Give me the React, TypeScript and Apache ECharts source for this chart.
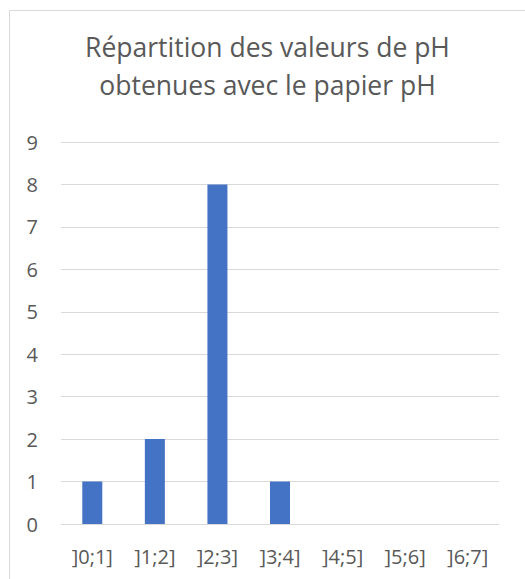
import React, { useEffect, useRef } from "react";
import * as echarts from "echarts";

const titleLines = ["Répartition des valeurs de pH", "obtenues avec le papier pH"];
const categories = ["]0;1]", "]1;2]", "]2;3]", "]3;4]", "]4;5]", "]5;6]", "]6;7]"];
const counts = [1, 2, 8, 1, 0, 0, 0];
const yMin = 0;
const yMax = 9;
const yInterval = 1;

export default function App() {
  const ref = useRef<HTMLDivElement>(null);
  useEffect(() => {
    if (!ref.current) return;
    const chart = echarts.init(ref.current, undefined, { renderer: "svg" });
    const font = "Open Sans";
    chart.setOption({
      animation: false,
      backgroundColor: "#ffffff",
      graphic: [
        { type: "line", shape: { x1: 9.5, y1: 10.5, x2: 9.5, y2: 579 }, style: { stroke: "#D9D9D9", lineWidth: 1 } },
        { type: "line", shape: { x1: 9.5, y1: 10.5, x2: 525, y2: 10.5 }, style: { stroke: "#D9D9D9", lineWidth: 1 } },
        {
          type: "text",
          x: 267.5,
          y: 28,
          style: {
            text: titleLines.join("\n"),
            align: "center",
            verticalAlign: "top",
            fontFamily: font,
            fontSize: 26.5,
            lineHeight: 38,
            fill: "#595959",
          },
        },
      ],
      grid: { left: 61, right: 26, top: 142, bottom: 55, containLabel: false },
      xAxis: {
        type: "category",
        data: categories,
        axisLine: { show: false },
        axisTick: { show: false },
        axisLabel: { color: "#595959", fontFamily: font, fontSize: 20, margin: 22 },
      },
      yAxis: {
        type: "value",
        min: yMin,
        max: yMax,
        interval: yInterval,
        axisLine: { show: false },
        axisTick: { show: false },
        axisLabel: { color: "#595959", fontFamily: font, fontSize: 20, margin: 23 },
        splitLine: { lineStyle: { color: "#D9D9D9", width: 1 } },
      },
      series: [
        {
          type: "bar",
          data: counts,
          barWidth: 20,
          itemStyle: { color: "#4472C4" },
        },
      ],
    });
    return () => chart.dispose();
  }, []);
  return <div ref={ref} style={{ position: "fixed", left: 0, top: 0, width: 525, height: 579 }} />;
}
